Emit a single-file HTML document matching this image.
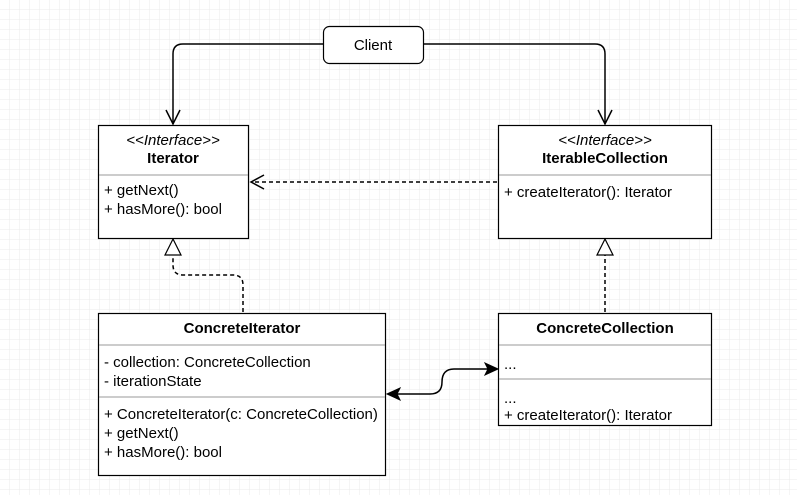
<!DOCTYPE html>
<html><head><style>
html,body{margin:0;padding:0;background:#fff}
svg{display:block}
text{font-family:"Liberation Sans",Arial,sans-serif;font-size:15px;fill:#000}
</style></head><body>
<svg width="797" height="495" xmlns="http://www.w3.org/2000/svg">
<defs>
<pattern id="g" width="10" height="10" patternUnits="userSpaceOnUse">
<path d="M10 0V10H0" fill="none" stroke="#ebebeb" stroke-width="1"/>
</pattern>
</defs>
<rect width="797" height="495" fill="url(#g)"/>

<g fill="none" stroke="#000" stroke-width="1.5">
<path d="M323 44H183Q173 44 173 54V124"/>
<path d="M166 110L173 124L180 110"/>
<path d="M423 44H595Q605 44 605 54V124"/>
<path d="M598 110L605 124L612 110"/>
<path d="M497 182H252" stroke-dasharray="4 3"/>
<path d="M264 175L251 182L264 189"/>
<path d="M243 312V285Q243 275 233 275H183Q173 275 173 265V255" stroke-dasharray="4 3"/>
<path d="M605 312V255" stroke-dasharray="4 3"/>
<path d="M389 394H430Q442 394 442 382Q442 369 454 369H494"/>
</g>
<path d="M173 239L165 255H181Z" fill="#fff" stroke="#000" stroke-width="1.2"/>
<path d="M605 239L597 255H613Z" fill="#fff" stroke="#000" stroke-width="1.2"/>
<path d="M387 394L400 388L397 394L400 400Z" fill="#000" stroke="#000"/>
<path d="M498 369L485 363L488 369L485 375Z" fill="#000" stroke="#000"/>

<rect x="323.5" y="26.5" width="100" height="37" rx="6" fill="#fff" stroke="#000" stroke-width="1.2"/>
<text x="373" y="50" text-anchor="middle">Client</text>

<rect x="98.5" y="125.5" width="150" height="113" fill="#fff" stroke="#000" stroke-width="1.2"/>
<line x1="99" y1="175" x2="248" y2="175" stroke="#999"/>
<text x="173" y="145" text-anchor="middle" font-style="italic">&lt;&lt;Interface&gt;&gt;</text>
<text x="173" y="163" text-anchor="middle" font-weight="bold">Iterator</text>
<text x="104" y="195">+ getNext()</text>
<text x="104" y="214">+ hasMore(): bool</text>

<rect x="498.5" y="125.5" width="213" height="113" fill="#fff" stroke="#000" stroke-width="1.2"/>
<line x1="499" y1="175" x2="711" y2="175" stroke="#999"/>
<text x="605" y="145" text-anchor="middle" font-style="italic">&lt;&lt;Interface&gt;&gt;</text>
<text x="605" y="163" text-anchor="middle" font-weight="bold">IterableCollection</text>
<text x="504" y="197">+ createIterator(): Iterator</text>

<rect x="98.5" y="313.5" width="287" height="162" fill="#fff" stroke="#000" stroke-width="1.2"/>
<line x1="99" y1="345" x2="385" y2="345" stroke="#999"/>
<line x1="99" y1="397" x2="385" y2="397" stroke="#999"/>
<text x="242" y="333" text-anchor="middle" font-weight="bold">ConcreteIterator</text>
<text x="104" y="367">- collection: ConcreteCollection</text>
<text x="104" y="386">- iterationState</text>
<text x="104" y="419">+ ConcreteIterator(c: ConcreteCollection)</text>
<text x="104" y="438">+ getNext()</text>
<text x="104" y="457">+ hasMore(): bool</text>

<rect x="498.5" y="313.5" width="213" height="112" fill="#fff" stroke="#000" stroke-width="1.2"/>
<line x1="499" y1="345" x2="711" y2="345" stroke="#999"/>
<line x1="499" y1="379" x2="711" y2="379" stroke="#999"/>
<text x="605" y="333" text-anchor="middle" font-weight="bold">ConcreteCollection</text>
<text x="504" y="369">...</text>
<text x="504" y="403">...</text>
<text x="504" y="420">+ createIterator(): Iterator</text>
</svg>
</body></html>
